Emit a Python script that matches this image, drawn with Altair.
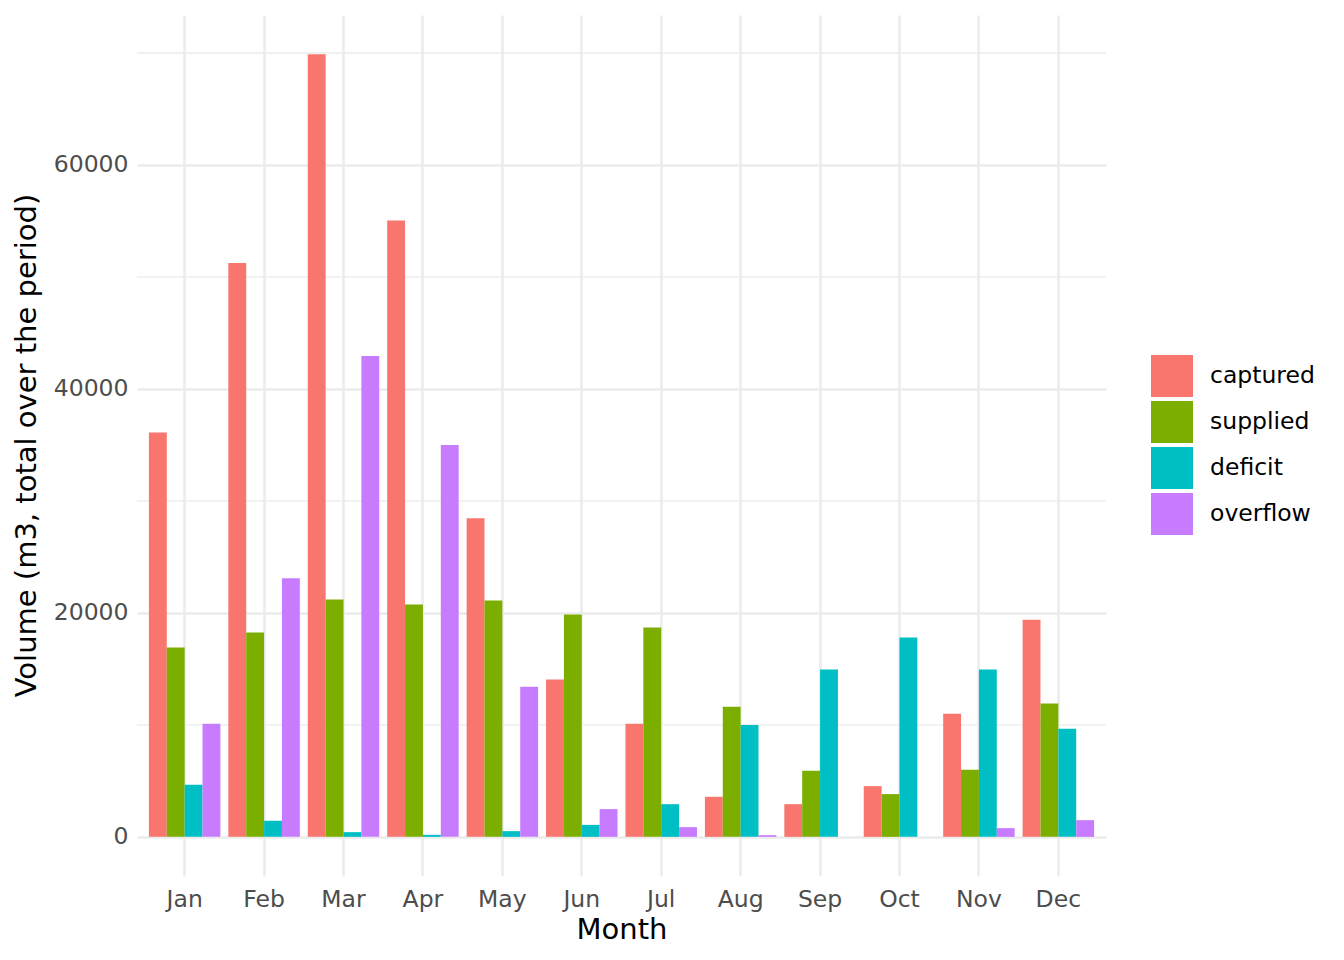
import altair as alt
import pandas as pd

months = ["Jan", "Feb", "Mar", "Apr", "May", "Jun",
          "Jul", "Aug", "Sep", "Oct", "Nov", "Dec"]
series_names = ["captured", "supplied", "deficit", "overflow"]
series_colors = ["#F8766D", "#7CAE00", "#00BFC4", "#C77CFF"]

captured = [36100, 51250, 69900, 55050, 28450, 14050, 10100, 3580, 2920, 4530, 11000, 19400]
supplied = [16900, 18250, 21200, 20750, 21100, 19850, 18700, 11620, 5900, 3820, 6000, 11900]
deficit = [4650, 1430, 420, 180, 510, 1070, 2920, 10000, 14950, 17800, 14950, 9650]
overflow = [10100, 23100, 42950, 35000, 13400, 2480, 870, 150, 0, 0, 780, 1490]

major_breaks = [0, 20000, 40000, 60000]
minor_breaks = [10000, 30000, 50000, 70000]

rows = []
for name, vals in zip(series_names, [captured, supplied, deficit, overflow]):
    for m, v in zip(months, vals):
        rows.append({"month": m, "series": name, "volume": v})
df = pd.DataFrame(rows)
minor_df = pd.DataFrame({"y": minor_breaks})

ymax = max(max(captured), max(supplied), max(deficit), max(overflow))
pad = 0.05 * ymax
y_scale = alt.Scale(domain=[-pad, ymax + pad], nice=False, zero=False)

font = "DejaVu Sans"

minor_grid = (
    alt.Chart(minor_df)
    .mark_rule(color="#EBEBEB", strokeWidth=1.3)
    .encode(y=alt.Y("y:Q", scale=y_scale))
)

bars = (
    alt.Chart(df)
    .mark_bar()
    .encode(
        x=alt.X(
            "month:N",
            sort=months,
            scale=alt.Scale(domain=months, paddingInner=0.1, paddingOuter=0.15),
            axis=alt.Axis(
                title="Month",
                bandPosition=0.5,
                labelAngle=0,
                ticks=False,
                domain=False,
                grid=True,
                gridColor="#EBEBEB",
                gridWidth=2.5,
                labelFont=font,
                labelFontSize=23.5,
                labelColor="#4D4D4D",
                labelBaseline="alphabetic",
                labelPadding=30,
                titleFont=font,
                titleFontSize=29,
                titleFontWeight="normal",
                titleColor="#000000",
                titleBaseline="alphabetic",
                titleY=62,
            ),
        ),
        xOffset=alt.XOffset(
            "series:N",
            sort=series_names,
            scale=alt.Scale(domain=series_names, paddingInner=0, paddingOuter=0),
        ),
        y=alt.Y(
            "volume:Q",
            scale=y_scale,
            axis=alt.Axis(
                title="Volume (m3, total over the period)",
                values=major_breaks,
                format="d",
                ticks=False,
                domain=False,
                grid=True,
                gridColor="#EBEBEB",
                gridWidth=2.5,
                labelFont=font,
                labelFontSize=23.5,
                labelColor="#4D4D4D",
                labelPadding=9,
                titleFont=font,
                titleFontSize=29,
                titleFontWeight="normal",
                titleColor="#000000",
                titleAngle=-90,
                titleAlign="center",
                titleBaseline="alphabetic",
                titleX=-102,
                titleY=430,
            ),
        ),
        color=alt.Color(
            "series:N",
            sort=series_names,
            scale=alt.Scale(domain=series_names, range=series_colors),
            legend=alt.Legend(
                title=None,
                orient="none",
                legendX=1014,
                legendY=340,
                symbolType="square",
                symbolSize=1764,
                symbolStrokeWidth=0,
                symbolOpacity=1,
                labelFont=font,
                labelFontSize=23.5,
                labelColor="#000000",
                labelOffset=17,
                rowPadding=4,
            ),
        ),
    )
)

chart = (
    alt.layer(minor_grid, bars)
    .properties(
        width=969,
        height=861,
        autosize=alt.AutoSizeParams(type="none"),
        padding={"left": 129, "top": 7, "right": 230, "bottom": 76},
        background="white",
    )
    .configure_view(stroke=None)
)

chart.save("out.html", embed_options={"renderer": "svg", "actions": False})
